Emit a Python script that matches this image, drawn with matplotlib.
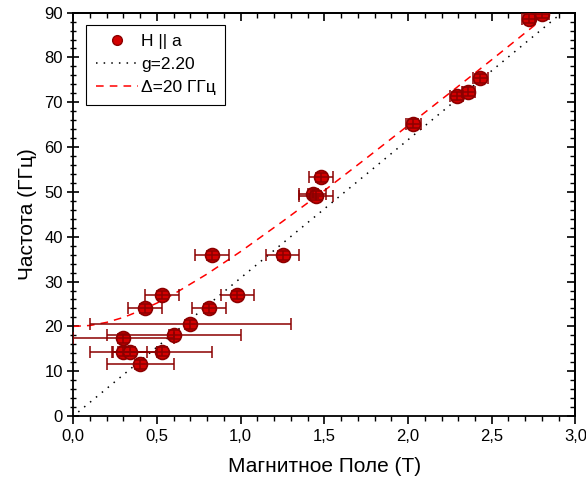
import matplotlib.pyplot as plt
import numpy as np

plt.rcParams['font.family'] = ['Liberation Sans', 'DejaVu Sans']

# measured points: field (T), frequency (GHz), field error (T)
field = np.array([0.30, 0.34, 0.53, 0.40, 0.30, 0.60, 0.70, 0.43, 0.81, 0.53, 0.98,
                  0.83, 1.25, 1.43, 1.45, 1.48, 2.03, 2.29, 2.36, 2.43, 2.72, 2.80])
freq = np.array([14.3, 14.3, 14.3, 11.5, 17.3, 18.1, 20.5, 24.0, 24.0, 27.0, 27.0,
                 35.9, 35.9, 49.6, 49.2, 53.3, 65.2, 71.4, 72.3, 75.4, 88.6, 89.7])
field_err = np.array([0.2, 0.1, 0.3, 0.2, 0.3, 0.4, 0.6, 0.1, 0.1, 0.1, 0.1,
                      0.1, 0.1, 0.08, 0.1, 0.07, 0.045, 0.04, 0.04, 0.045, 0.04, 0.04])
freq_err = np.full(len(freq), 1.0)

# g = 2.20 line
g_field = [0.03, 2.92]
g_freq = [0.9, 90.0]

# gap curve, Delta = 20 GHz
gap_field = [0.0, 0.1, 0.2, 0.3, 0.4, 0.5, 0.6, 0.8, 1.0, 1.25, 1.5, 1.75,
             2.0, 2.25, 2.5, 2.75, 2.85]
gap_freq = [20.0, 20.2, 20.9, 22.0, 23.5, 25.2, 27.2, 31.7, 36.7, 43.4, 50.3, 57.5,
            64.8, 72.1, 79.5, 87.0, 90.0]

fig = plt.figure(figsize=(5.86, 4.86), dpi=100)
ax = fig.add_axes([0.125, 0.144, 0.857, 0.830])

ax.plot(g_field, g_freq, color='black', linestyle=(0, (1, 4)), linewidth=1.1,
        label='g=2.20', zorder=2)
ax.plot(gap_field, gap_freq, color='red', linestyle=(0, (5, 4)), linewidth=1.1,
        label='\u0394=20 ГГц', zorder=2)

ax.plot(field, freq, linestyle='none', marker='o', markersize=10,
        markerfacecolor='#d40000', markeredgecolor='#8b0000', markeredgewidth=1.2,
        zorder=3)
ax.errorbar(field, freq, xerr=field_err, yerr=freq_err, fmt='none',
            ecolor='#8b0000', elinewidth=1.1, capsize=4, capthick=1.1, zorder=4)
ax.plot([], [], linestyle='none', marker='o', markersize=7,
        markerfacecolor='#d40000', markeredgecolor='#8b0000', label='H || a')

ax.set_xlim(0, 3)
ax.set_ylim(0, 90)
xt = np.arange(0, 3.01, 0.5)
ax.set_xticks(xt)
ax.set_xticklabels([f'{v:.1f}'.replace('.', ',') for v in xt])
ax.set_yticks(np.arange(0, 91, 10))
ax.set_xticks(np.arange(0, 3.01, 0.1), minor=True)
ax.set_yticks(np.arange(0, 91, 2), minor=True)

ax.tick_params(axis='both', which='both', labelsize=12)
ax.tick_params(axis='x', which='major', direction='out', length=6, width=1.2)
ax.tick_params(axis='x', which='minor', direction='out', length=3.5, width=1)
ax.tick_params(axis='y', which='major', direction='inout', length=8, width=1.2)
ax.tick_params(axis='y', which='minor', direction='inout', length=5, width=1)

# inward ticks on top and right
top = ax.secondary_xaxis('top')
top.set_xticks(xt)
top.set_xticks(np.arange(0, 3.01, 0.1), minor=True)
top.tick_params(which='major', direction='in', length=6, width=1.2, labeltop=False)
top.tick_params(which='minor', direction='in', length=3.5, width=1)
right = ax.secondary_yaxis('right')
right.set_yticks(np.arange(0, 91, 10))
right.set_yticks(np.arange(0, 91, 2), minor=True)
right.tick_params(which='major', direction='in', length=6, width=1.2, labelright=False)
right.tick_params(which='minor', direction='in', length=3.5, width=1)
for a in (ax, top, right):
    for side in a.spines.values():
        side.set_linewidth(1.3)

ax.set_xlabel('Магнитное Поле (Т)', fontsize=15, labelpad=9)
ax.set_ylabel('Частота (ГГц)', fontsize=15, labelpad=5)

handles, labels = ax.get_legend_handles_labels()
order = [2, 0, 1]
leg = ax.legend([handles[i] for i in order], [labels[i] for i in order],
                loc='upper left', bbox_to_anchor=(0.026, 0.97), borderaxespad=0,
                fontsize=12.5, fancybox=False, edgecolor='black', framealpha=1,
                handlelength=2.4, handletextpad=0.2, borderpad=0.55,
                labelspacing=0.45)
leg.get_frame().set_linewidth(0.8)

fig.savefig('out.png', dpi=100)
